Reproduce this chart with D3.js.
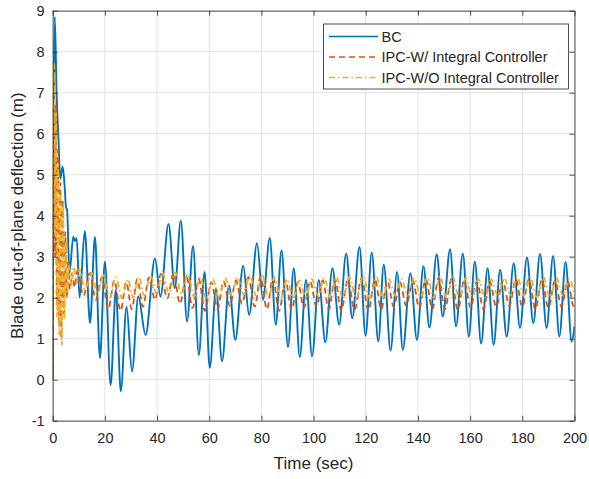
<!DOCTYPE html>
<html><head><meta charset="utf-8">
<script src="https://cdn.jsdelivr.net/npm/d3@7"></script>
<style>
body{margin:0;background:#fff;}
text{font-family:"Liberation Sans",Arial,Helvetica,sans-serif;fill:#262626;}
</style>
</head><body>
<svg id="c" width="589" height="479"></svg>
<script>
const xTicks=[0,20,40,60,80,100,120,140,160,180,200];
const yTicks=[-1,0,1,2,3,4,5,6,7,8,9];
const seriesNames=["BC","IPC-W/ Integral Controller","IPC-W/O Integral Controller"];
const seriesColors=["#0072BD","#D95319","#EDB120"];
const xLabel="Time (sec)";
const yLabel="Blade out-of-plane deflection (m)";

// [time, deflection]
const bcSeries=[[0,0],[0.8,8.85],[1.5,6.96],[2.2,5.9],[2.9,4.9],[3.8,5.2],[4.6,4.7],[5.1,4.2],[5.5,4.15],[6.4,2.6],[7.9,3.49],[8.5,3.38],[9.2,3.45],[10.3,2.0],[12.3,3.63],[14.3,1.38],[16.2,3.48],[18.1,0.53],[20.0,2.88],[22.2,-0.13],[24.2,2.19],[26.1,-0.28],[28.3,1.78],[30.4,0.2],[32.8,2.03],[35.6,1.09],[39.2,2.96],[41.3,2.03],[44.4,3.8],[46.8,2.23],[49.1,3.88],[51.5,1.42],[53.8,3.26],[56.0,0.6],[58.2,2.63],[60.2,0.29],[62.6,2.23],[64.9,0.45],[67.6,2.29],[70.0,0.97],[73.0,2.78],[75.3,1.58],[78.3,3.33],[80.6,1.95],[83.2,3.46],[85.5,1.34],[87.7,3.15],[90.2,0.8],[92.4,2.72],[94.7,0.55],[97.1,2.43],[99.4,0.57],[102.0,2.43],[104.5,0.91],[107.2,2.72],[109.8,1.34],[112.5,3.08],[114.8,1.5],[117.6,3.24],[119.9,1.07],[122.3,3.10],[124.8,0.93],[126.9,2.81],[129.5,0.71],[132.0,2.63],[134.2,0.73],[137.1,2.6],[139.6,0.97],[142.1,2.77],[144.4,1.27],[147.2,3.06],[149.5,1.54],[152.3,3.18],[154.6,1.30],[157.2,3.08],[159.5,1.05],[161.8,2.88],[164.2,0.88],[166.7,2.72],[169.0,0.85],[171.5,2.68],[174.0,1.05],[176.7,2.84],[179.1,1.26],[181.8,2.98],[184.2,1.38],[186.8,3.07],[189.3,1.26],[191.8,3.02],[194.2,1.05],[196.6,2.87],[198.9,0.93],[200,1.3]];

const ipcWSeries=[[0,0],[0.5,7.65],[0.9,3.0],[1.2,6.7],[1.6,1.8],[2.0,5.6],[2.4,1.3],[2.9,4.8],[3.3,1.0],[3.8,4.4],[4.3,1.6],[4.8,3.6],[5.4,2.0],[6.0,2.9],[6.6,2.2],[7.4,2.6],[8.4,2.25],[9.4,2.65],[11.8,2.05],[14.2,2.6],[16.5,1.95],[18.9,2.5],[21.3,1.72],[23.6,2.42],[26.0,1.68],[28.2,2.38],[30.3,1.72],[32.4,2.45],[34.6,1.78],[36.9,2.5],[39.2,1.95],[41.5,2.58],[43.9,1.98],[46.3,2.6],[48.8,1.85],[51.2,2.55],[53.6,1.75],[56.0,2.45],[58.3,1.68],[60.8,2.38],[63.2,1.72],[65.5,2.4],[67.9,1.8],[70.2,2.42],[72.6,1.85],[75.0,2.5],[77.4,1.78],[79.7,2.52],[82.1,1.72],[84.4,2.48],[86.8,1.68],[89.2,2.42],[91.6,1.7],[94.0,2.38],[96.3,1.75],[98.7,2.4],[101.1,1.78],[103.5,2.42],[105.8,1.72],[108.2,2.45],[110.6,1.68],[113.1,2.45],[115.7,1.7],[118.4,2.48],[121.0,1.68],[123.5,2.45],[125.9,1.72],[128.3,2.4],[130.7,1.78],[133.1,2.38],[135.5,1.8],[138.0,2.42],[140.5,1.75],[143.0,2.45],[145.5,1.72],[147.9,2.48],[150.3,1.72],[152.8,2.45],[155.3,1.7],[157.7,2.42],[160.2,1.75],[162.6,2.4],[165.1,1.72],[167.5,2.4],[170.0,1.78],[172.5,2.42],[175.0,1.8],[177.5,2.45],[180.0,1.78],[182.5,2.45],[185.0,1.72],[187.5,2.45],[190.0,1.75],[192.5,2.42],[195.0,1.78],[197.4,2.4],[199.6,1.8],[200,1.85]];

const ipcWOSeries=[[0,0],[0.6,7.7],[1.0,3.5],[1.3,6.5],[1.7,1.5],[2.1,5.2],[2.5,1.1],[3.0,4.6],[3.5,0.85],[4.0,4.3],[4.5,1.5],[5.0,3.4],[5.6,2.1],[6.2,2.8],[7.0,2.3],[8.0,2.75],[9.2,2.35],[10.2,2.7],[12.4,2.2],[14.8,2.62],[17.1,2.1],[19.5,2.55],[21.9,2.0],[24.2,2.5],[26.6,1.98],[28.8,2.45],[30.9,2.0],[33.0,2.5],[35.2,2.05],[37.5,2.55],[39.8,2.1],[42.1,2.6],[44.5,2.12],[46.9,2.62],[49.4,2.08],[51.8,2.58],[54.2,2.02],[56.6,2.5],[58.9,1.98],[61.4,2.45],[63.8,2.0],[66.1,2.48],[68.5,2.05],[70.8,2.5],[73.2,2.08],[75.6,2.55],[78.0,2.05],[80.3,2.55],[82.7,2.0],[85.0,2.5],[87.4,1.98],[89.8,2.45],[92.2,2.0],[94.6,2.42],[96.9,2.02],[99.3,2.45],[101.7,2.05],[104.1,2.48],[106.4,2.0],[108.8,2.5],[111.2,1.98],[113.7,2.5],[116.3,2.0],[119.0,2.52],[121.6,1.98],[124.1,2.5],[126.5,2.0],[128.9,2.45],[131.3,2.05],[133.7,2.45],[136.1,2.05],[138.6,2.48],[141.1,2.02],[143.6,2.5],[146.1,2.0],[148.5,2.52],[150.9,2.0],[153.4,2.5],[155.9,1.98],[158.3,2.48],[160.8,2.02],[163.2,2.45],[165.7,2.0],[168.1,2.45],[170.6,2.05],[173.1,2.48],[175.6,2.05],[178.1,2.5],[180.6,2.05],[183.1,2.5],[185.6,2.0],[188.1,2.5],[190.6,2.02],[193.1,2.48],[195.6,2.05],[198.0,2.45],[200,2.1]];

const allSeries=[bcSeries,ipcWSeries,ipcWOSeries];
const dashes=[null,"6,4","6,3,1.5,3"];
const widths=[1.9,1.8,1.8];

const L=52.7,R=574.5,T=10.7,B=420.7;
const svg=d3.select("#c");
const x=d3.scaleLinear().domain([0,200]).range([L,R]);
const y=d3.scaleLinear().domain([-1,9]).range([B,T]);

// grid
const g=svg.append("g");
g.selectAll(".gx").data(xTicks).enter().append("line")
 .attr("x1",d=>x(d)).attr("x2",d=>x(d)).attr("y1",T).attr("y2",B)
 .attr("stroke","#e2e2e2").attr("stroke-width",1);
g.selectAll(".gy").data(yTicks).enter().append("line")
 .attr("y1",d=>y(d)).attr("y2",d=>y(d)).attr("x1",L).attr("x2",R)
 .attr("stroke","#e2e2e2").attr("stroke-width",1);

// lines
svg.append("clipPath").attr("id","clip").append("rect").attr("x",L).attr("y",T).attr("width",R-L).attr("height",B-T);
const line=d3.line().x(d=>x(d[0])).y(d=>y(d[1])).curve(d3.curveMonotoneX);
const lg=svg.append("g").attr("clip-path","url(#clip)");
allSeries.forEach((s,i)=>{
  lg.append("path").datum(s).attr("d",line).attr("fill","none")
   .attr("stroke",seriesColors[i]).attr("stroke-width",widths[i])
   .attr("stroke-dasharray",dashes[i]);
});

// axes
function styleAxis(sel){
  sel.select(".domain").attr("stroke","#262626").attr("stroke-width",0.8);
  sel.selectAll(".tick line").attr("stroke","#262626").attr("stroke-width",0.8);
  sel.selectAll("text").attr("fill","#262626").style("font-size","14.5px")
   .style("font-family","'Liberation Sans',Arial,sans-serif");
}
const fmt=d=>String(d);
const ax=svg.append("g").attr("transform",`translate(0,${B})`)
 .call(d3.axisBottom(x).tickValues(xTicks).tickFormat(fmt).tickSizeInner(-5).tickSizeOuter(0).tickPadding(12));
styleAxis(ax);
const axT=svg.append("g").attr("transform",`translate(0,${T})`)
 .call(d3.axisTop(x).tickValues(xTicks).tickSizeInner(-5).tickSizeOuter(0).tickFormat(""));
styleAxis(axT);
const ay=svg.append("g").attr("transform",`translate(${L},0)`)
 .call(d3.axisLeft(y).tickValues(yTicks).tickFormat(fmt).tickSizeInner(-5).tickSizeOuter(0).tickPadding(8));
styleAxis(ay);
const ayR=svg.append("g").attr("transform",`translate(${R},0)`)
 .call(d3.axisRight(y).tickValues(yTicks).tickSizeInner(-5).tickSizeOuter(0).tickFormat(""));
styleAxis(ayR);

// labels
svg.append("text").attr("x",(L+R)/2).attr("y",469).attr("text-anchor","middle")
 .style("font-size","17px").text(xLabel);
svg.append("text").attr("transform",`translate(23,${(T+B)/2}) rotate(-90)`).attr("text-anchor","middle")
 .style("font-size","17px").text(yLabel);

// legend
const leg=svg.append("g");
leg.append("rect").attr("x",323.5).attr("y",24).attr("width",245).attr("height",65)
 .attr("fill","#fff").attr("stroke","#262626").attr("stroke-width",0.8);
const rowY=[36.5,57,77.5];
seriesNames.forEach((n,i)=>{
  leg.append("line").attr("x1",329).attr("x2",378).attr("y1",rowY[i]).attr("y2",rowY[i])
   .attr("stroke",seriesColors[i]).attr("stroke-width",1.6).attr("stroke-dasharray",dashes[i]);
  leg.append("text").attr("x",381.5).attr("y",rowY[i]+5).style("font-size","14.5px").text(n);
});
</script>
</body></html>
